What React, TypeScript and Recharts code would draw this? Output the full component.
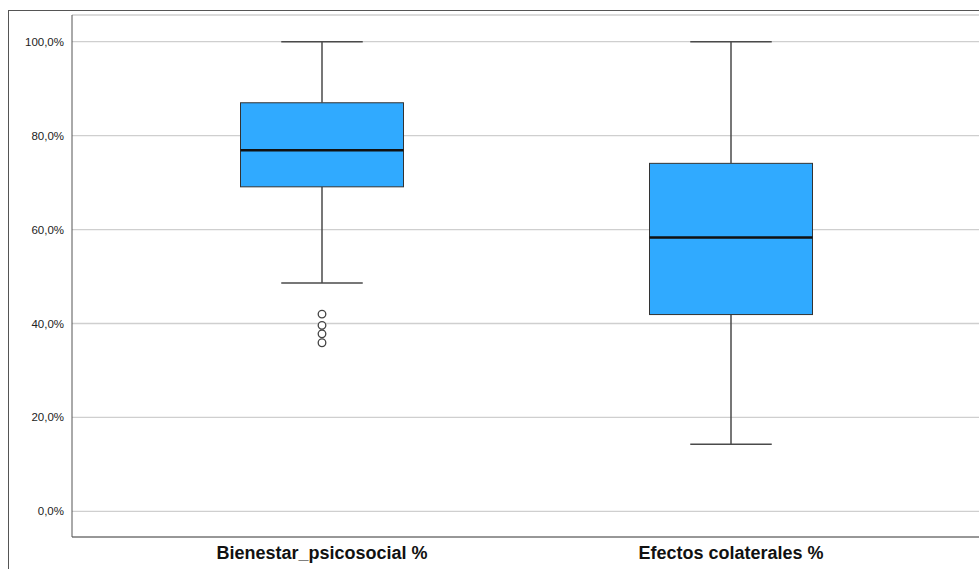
import { ComposedChart, Bar, Scatter, XAxis, YAxis, CartesianGrid } from "recharts";

const categories = ["Bienestar_psicosocial %", "Efectos colaterales %"];
const mins = [48.6, 14.3];
const q1s = [69.1, 41.9];
const medians = [76.9, 58.3];
const q3s = [87.0, 74.1];
const maxs = [100, 100];
const outlierValues = [42.0, 39.6, 37.8, 35.9];
const yTicks = [0, 20, 40, 60, 80, 100];

const BOX_FILL = "#30aaff";
const LINE = "#4a4a4a";

const data = categories.map((name, i) => ({
  name,
  base: mins[i],
  lowWhisker: q1s[i] - mins[i],
  lowBox: medians[i] - q1s[i],
  highBox: q3s[i] - medians[i],
  highWhisker: maxs[i] - q3s[i],
}));

const outliers = outlierValues.map((value) => ({ name: categories[0], value }));

const fmt = (v: number) => v.toFixed(1).replace(".", ",") + "%";

function Whisker(props: any) {
  const { x, y, width, height, capAt } = props;
  const cx = x + width / 2;
  const capY = capAt === "top" ? y : y + height;
  return (
    <g>
      <line x1={cx} x2={cx} y1={y} y2={y + height} stroke={LINE} strokeWidth={1.5} />
      <line x1={cx - width / 4} x2={cx + width / 4} y1={capY} y2={capY} stroke={LINE} strokeWidth={1.5} />
    </g>
  );
}

function BoxPart(props: any) {
  const { x, y, width, height, median } = props;
  return (
    <g>
      <rect x={x} y={y} width={width} height={height} fill={BOX_FILL} stroke="#333" strokeWidth={1} />
      {median && <line x1={x} x2={x + width} y1={y + height} y2={y + height} stroke="#111" strokeWidth={2.5} />}
    </g>
  );
}

function Outlier(props: any) {
  const { cx, cy } = props;
  return <circle cx={cx} cy={cy} r={3.8} fill="#fff" stroke="#444" strokeWidth={1.3} />;
}

export default function App() {
  return (
    <div style={{ position: "fixed", left: 0, top: 0, width: 979, height: 569, overflow: "hidden", background: "#fff" }}>
      <div
        style={{
          position: "absolute",
          left: 8,
          top: 10,
          width: 1200,
          height: 800,
          borderLeft: "1px solid #555",
          borderTop: "1px solid #555",
        }}
      />
      <div style={{ position: "absolute", left: 0, top: 0 }}>
        <ComposedChart
          width={1000}
          height={569}
          data={data}
          margin={{ top: 15, right: 0, bottom: 0, left: 0 }}
          barSize={163}
        >
          <CartesianGrid vertical={false} stroke="#cfcfcf" strokeWidth={1.3} />
          <XAxis
            dataKey="name"
            allowDuplicatedCategory={false}
            height={32}
            padding={{ left: 45.5, right: 64.5 }}
            tickLine={false}
            tickSize={0}
            tickMargin={9}
            axisLine={{ stroke: "#555" }}
            tick={{ fill: "#111", fontSize: 18, fontWeight: 700, fontFamily: "Liberation Sans, Arial, sans-serif" }}
          />
          <YAxis
            width={72}
            domain={[-5.47, 105.69]}
            ticks={yTicks}
            tickFormatter={fmt}
            tickLine={false}
            tickSize={0}
            tickMargin={8}
            axisLine={{ stroke: "#555" }}
            allowDataOverflow
            tick={{ fill: "#222", fontSize: 11.5, fontFamily: "Liberation Sans, Arial, sans-serif" }}
          />
          <Bar dataKey="base" stackId="box" fill="none" isAnimationActive={false} />
          <Bar dataKey="lowWhisker" stackId="box" isAnimationActive={false} shape={(p: any) => <Whisker {...p} capAt="bottom" />} />
          <Bar dataKey="lowBox" stackId="box" isAnimationActive={false} shape={(p: any) => <BoxPart {...p} />} />
          <Bar dataKey="highBox" stackId="box" isAnimationActive={false} shape={(p: any) => <BoxPart {...p} median />} />
          <Bar dataKey="highWhisker" stackId="box" isAnimationActive={false} shape={(p: any) => <Whisker {...p} capAt="top" />} />
          <Scatter data={outliers} dataKey="value" isAnimationActive={false} shape={(p: any) => <Outlier {...p} />} />
        </ComposedChart>
      </div>
    </div>
  );
}
